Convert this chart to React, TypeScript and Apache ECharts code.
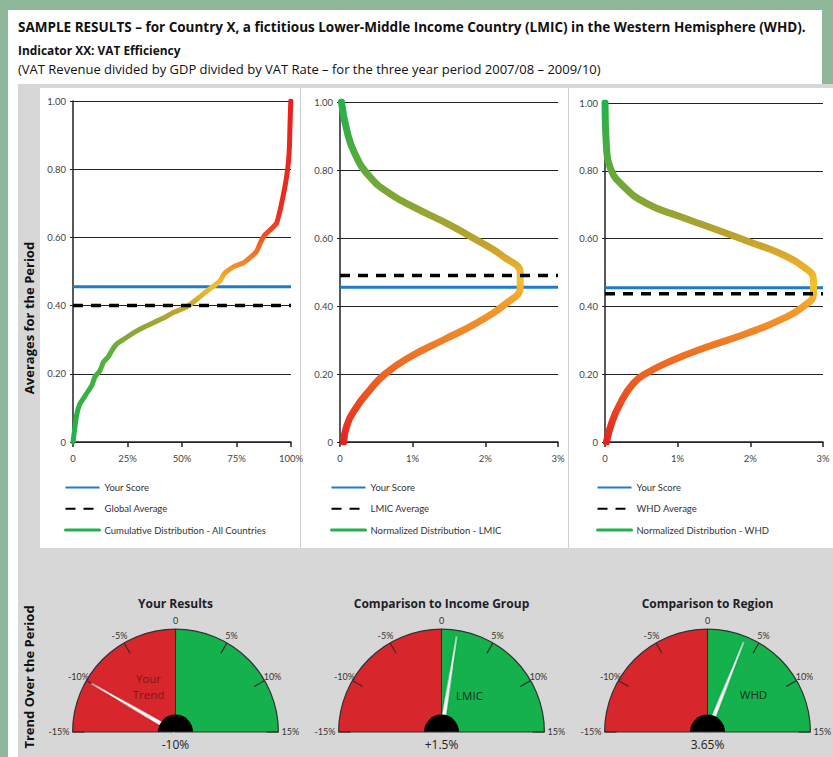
import React, { useEffect, useRef } from 'react';
import * as echarts from 'echarts';

// ---------- DATA ----------
// Chart 1: cumulative distribution, all countries (x = share of countries %, y = VAT efficiency)
const cdfShare = [0, 1.0, 1.7, 3, 4.5, 6, 8.6, 10, 12.4, 14, 16.2, 18, 20, 23, 27.7, 32, 36.8, 42, 46, 50, 53.7, 58, 61.3, 65, 67.4, 69, 70.5, 74, 78.1, 82, 84.3, 86, 88.1, 91, 93.4, 95, 96.5, 97.8, 98.8, 99.3, 99.5, 99.9];
const cdfValue = [0, 0.05, 0.08, 0.11, 0.125, 0.14, 0.165, 0.19, 0.21, 0.235, 0.25, 0.27, 0.287, 0.3, 0.32, 0.335, 0.35, 0.365, 0.38, 0.39, 0.403, 0.425, 0.442, 0.46, 0.472, 0.49, 0.5, 0.515, 0.525, 0.545, 0.56, 0.585, 0.608, 0.625, 0.642, 0.68, 0.725, 0.77, 0.82, 0.87, 0.92, 1.0];
// Chart 2: normalized distribution LMIC (x = density %, y = value)
const lmicDensity = [0.05, 0.09, 0.2, 0.41, 0.62, 0.96, 1.42, 1.88, 2.29, 2.48, 2.48, 2.25, 1.88, 1.47, 1.05, 0.69, 0.41, 0.2, 0.09, 0.02];
const lmicValue = [0, 0.045, 0.094, 0.153, 0.2, 0.25, 0.3, 0.35, 0.408, 0.457, 0.496, 0.545, 0.594, 0.643, 0.687, 0.73, 0.78, 0.85, 0.92, 1.0];
// Chart 3: normalized distribution WHD
const whdDensity = [0.02, 0.09, 0.21, 0.39, 0.57, 0.94, 1.4, 1.95, 2.41, 2.73, 2.87, 2.87, 2.73, 2.41, 1.99, 1.49, 1.03, 0.57, 0.25, 0.07, 0.02, 0.0];
const whdValue = [0, 0.055, 0.114, 0.173, 0.203, 0.242, 0.28, 0.32, 0.36, 0.4, 0.439, 0.478, 0.517, 0.556, 0.59, 0.63, 0.665, 0.704, 0.755, 0.81, 0.87, 1.0];

const yourScore = 0.455;
const averageValues = [0.4, 0.49, 0.437];
const averageNames = ['Global Average', 'LMIC Average', 'WHD Average'];
const curveNames = ['Cumulative Distribution - All Countries', 'Normalized Distribution - LMIC', 'Normalized Distribution - WHD'];
const xMaxes = [100, 3, 3];
const xIntervals = [25, 1, 1];

const gaugeTitles = ['Your Results', 'Comparison to Income Group', 'Comparison to Region'];
const gaugeValues = [-10, 1.5, 3.65];
const gaugeValueLabels = ['-10%', '+1.5%', '3.65%'];
const gaugeNames = ['Your\nTrend', 'LMIC', 'WHD'];
const gaugeTicks = [-15, -10, -5, 0, 5, 10, 15];

// ---------- STYLE / LAYOUT ----------
const NARROW = "Lato, 'Noto Sans', sans-serif";
const SANS = "'Open Sans', 'Noto Sans', sans-serif";
const grids = [
  { left: 73, top: 101, width: 218, height: 341 },
  { left: 340, top: 102, width: 218, height: 340 },
  { left: 605, top: 103, width: 218, height: 339 },
];
const legendLefts = [64, 330, 596];
const gaugeCX = [175.5, 441.5, 707.5];
const gaugeCY = 732;
const gaugeR = 103;
const gaugeNameOffsets = [[-27, -46], [28, -37], [46, -38]];
const gaugeNameColors = ['#7a1616', '#17301f', '#17301f'];

const gradients = [
  [[0, '#e8211f'], [0.33, '#ea2e20'], [0.4, '#ee5624'], [0.48, '#f18a2a'], [0.54, '#f4c02c'], [0.6, '#c9a62f'], [0.66, '#98a534'], [0.74, '#5faf3b'], [0.85, '#36b145'], [1, '#21b24b']],
  [[0, '#22b24b'], [0.15, '#4dac3e'], [0.3, '#88a633'], [0.42, '#c3a22d'], [0.49, '#ebb02c'], [0.52, '#f4c02c'], [0.6, '#f39a2a'], [0.72, '#f07a25'], [0.85, '#ed5522'], [1, '#e8211f']],
  [[0, '#22b24b'], [0.15, '#4dac3e'], [0.3, '#8aa533'], [0.4, '#c0a22e'], [0.47, '#e6ab2c'], [0.54, '#f4c22c'], [0.6, '#f3a02a'], [0.7, '#f07c25'], [0.85, '#ed5522'], [1, '#e8211f']],
];

function pairs(xs: number[], ys: number[]) {
  return xs.map((x, i) => [x, ys[i]]);
}

export default function App() {
  const ref = useRef<HTMLDivElement>(null);
  useEffect(() => {
    if (!ref.current) return;
    const chart = echarts.init(ref.current, undefined, { renderer: 'svg' });
    const curves = [pairs(cdfShare, cdfValue), pairs(lmicDensity, lmicValue), pairs(whdDensity, whdValue)];

    const xAxis: any[] = [];
    const yAxis: any[] = [];
    const series: any[] = [];
    const legend: any[] = [];

    for (let i = 0; i < 3; i++) {
      xAxis.push({
        gridIndex: i, type: 'value', min: 0, max: xMaxes[i], interval: xIntervals[i],
        axisLine: { show: true, onZero: false, lineStyle: { color: '#222', width: 1.5 } },
        axisTick: { show: true, length: 5, lineStyle: { color: '#222', width: 1.5 } },
        axisLabel: { color: '#444', fontSize: 9.5, fontFamily: NARROW, margin: 11, formatter: (v: number) => (v === 0 ? '0' : `${v}%`) },
        splitLine: { show: false },
      });
      yAxis.push({
        gridIndex: i, type: 'value', min: 0, max: 1, interval: 0.2,
        axisLine: { show: true, onZero: false, lineStyle: { color: '#222', width: 1.5 } },
        axisTick: { show: true, length: 3, lineStyle: { color: '#222' } },
        axisLabel: { color: '#444', fontSize: 9.5, fontFamily: NARROW, margin: 7, formatter: (v: number) => (v === 0 ? '0' : v.toFixed(2)) },
        splitLine: { show: true, lineStyle: { color: '#222', width: 1 } },
      });
      series.push({
        name: 'Your Score', type: 'line', xAxisIndex: i, yAxisIndex: i, symbol: 'none', silent: true,
        data: [[0, yourScore], [xMaxes[i], yourScore]],
        lineStyle: { color: '#1f7bcc', width: 3 }, itemStyle: { color: '#1f7bcc' }, z: 3,
      });
      series.push({
        name: curveNames[i], type: 'line', xAxisIndex: i, yAxisIndex: i, symbol: 'none', silent: true,
        smooth: i === 0 ? 0.15 : 0.5,
        data: curves[i],
        lineStyle: {
          width: i === 0 ? 5 : 7, cap: 'round', join: 'round',
          color: new echarts.graphic.LinearGradient(0, 0, 0, 1, gradients[i].map(([o, c]) => ({ offset: o as number, color: c as string }))),
        },
        itemStyle: { color: '#22b14c' }, z: 4,
      });
      series.push({
        name: averageNames[i], type: 'line', xAxisIndex: i, yAxisIndex: i, symbol: 'none', silent: true,
        data: [[0, averageValues[i]], [xMaxes[i], averageValues[i]]],
        lineStyle: { color: '#000', width: 3.5, type: [10, 8] }, itemStyle: { color: '#000' }, z: 5,
      });
      legend.push({
        orient: 'vertical', left: legendLefts[i], top: 482, itemWidth: 34, itemHeight: 14, itemGap: 10,
        selectedMode: false, padding: 0,
        itemStyle: { opacity: 0, borderWidth: 0 },
        textStyle: { fontSize: 9.5, color: '#333', fontFamily: NARROW },
        data: [
          { name: 'Your Score' },
          { name: averageNames[i] },
          { name: curveNames[i], lineStyle: { color: '#22b14c', width: 3 } },
        ],
      });
    }

    // gauges
    for (let g = 0; g < 3; g++) {
      const center = [gaugeCX[g], gaugeCY];
      series.push({
        type: 'gauge', center, radius: gaugeR, startAngle: 180, endAngle: 0, min: -15, max: 15, splitNumber: 6,
        axisLine: { lineStyle: { width: gaugeR, color: [[0.5, '#d7272c'], [1, '#14b14d']] } },
        axisTick: { show: false },
        splitLine: { show: true, length: 12, distance: -gaugeR, lineStyle: { color: '#3a2a2a', width: 1.2 } },
        axisLabel: { show: false },
        pointer: { show: true, icon: 'path://M1.6,0 L2.4,0 L4,100 L0,100 Z', length: 97, width: 4.5, offsetCenter: [0, 0], itemStyle: { color: '#ffffff', shadowColor: 'rgba(0,0,0,0.35)', shadowBlur: 2 } },
        anchor: { show: false },
        title: { show: true, offsetCenter: gaugeNameOffsets[g], color: gaugeNameColors[g], fontSize: 11.5, lineHeight: 16, fontFamily: SANS },
        detail: { show: true, offsetCenter: [0, 12], color: '#222', fontSize: 12, fontWeight: 'normal', fontFamily: SANS, formatter: () => gaugeValueLabels[g] },
        data: [{ value: gaugeValues[g], name: gaugeNames[g] }],
        z: 2,
      });
      series.push({
        type: 'gauge', center, radius: gaugeR + 0.5, startAngle: 180, endAngle: 0, min: -15, max: 15, silent: true,
        axisLine: { lineStyle: { width: 1.2, color: [[1, '#333']] } },
        axisTick: { show: false }, splitLine: { show: false }, axisLabel: { show: false },
        pointer: { show: false }, anchor: { show: false }, title: { show: false }, detail: { show: false },
        data: [{ value: 0 }], z: 3,
      });
      series.push({
        type: 'gauge', center, radius: 17.5, startAngle: 180, endAngle: 0, min: 0, max: 1, silent: true,
        axisLine: { lineStyle: { width: 17.5, color: [[1, '#000']] } },
        axisTick: { show: false }, splitLine: { show: false }, axisLabel: { show: false },
        pointer: { show: false }, anchor: { show: false }, title: { show: false }, detail: { show: false },
        data: [{ value: 0 }], z: 4,
      });
    }

    const graphic: any[] = [
      { type: 'rect', z: -10, silent: true, shape: { x: 0, y: 0, width: 833, height: 757 }, style: { fill: '#8fb89b' } },
      { type: 'rect', z: -9, silent: true, shape: { x: 8, y: 10, width: 814, height: 747 }, style: { fill: '#ffffff' } },
      { type: 'rect', z: -8, silent: true, shape: { x: 18, y: 84, width: 815, height: 673 }, style: { fill: '#d7d7d7' } },
      { type: 'rect', z: -7, silent: true, shape: { x: 40, y: 88, width: 793, height: 460 }, style: { fill: '#ffffff' } },
      { type: 'line', z: -6, silent: true, shape: { x1: 300.5, y1: 88, x2: 300.5, y2: 548 }, style: { stroke: '#d0d0d0', lineWidth: 1 } },
      { type: 'line', z: -6, silent: true, shape: { x1: 568.5, y1: 88, x2: 568.5, y2: 548 }, style: { stroke: '#d0d0d0', lineWidth: 1 } },
      { type: 'text', z: 100, x: 18, y: 27, style: { text: 'SAMPLE RESULTS \u2013 for Country X, a fictitious Lower-Middle Income Country (LMIC) in the Western Hemisphere (WHD).', fill: '#111', fontSize: 13.5, fontWeight: 'bold', fontFamily: SANS, verticalAlign: 'middle' } },
      { type: 'text', z: 100, x: 18, y: 50, style: { text: 'Indicator XX: VAT Efficiency', fill: '#111', fontSize: 11.9, fontWeight: 'bold', fontFamily: SANS, verticalAlign: 'middle' } },
      { type: 'text', z: 100, x: 18, y: 69, style: { text: '(VAT Revenue divided by GDP divided by VAT Rate \u2013 for the three year period 2007/08 \u2013 2009/10)', fill: '#111', fontSize: 13, fontFamily: SANS, verticalAlign: 'middle' } },
      { type: 'text', z: 100, x: 29, y: 318, rotation: Math.PI / 2, style: { text: 'Averages for the Period', fill: '#111', fontSize: 13, fontWeight: 'bold', fontFamily: SANS, align: 'center', verticalAlign: 'middle' } },
      { type: 'text', z: 100, x: 29, y: 677, rotation: Math.PI / 2, style: { text: 'Trend Over the Period', fill: '#111', fontSize: 13, fontWeight: 'bold', fontFamily: SANS, align: 'center', verticalAlign: 'middle' } },
    ];

    for (let g = 0; g < 3; g++) {
      const cx = gaugeCX[g];
      graphic.push({ type: 'text', z: 100, x: cx, y: 603, style: { text: gaugeTitles[g], fill: '#1e1e2a', fontSize: 12, fontWeight: 'bold', fontFamily: SANS, align: 'center', verticalAlign: 'middle' } });
      graphic.push({ type: 'line', z: 10, silent: true, shape: { x1: cx - gaugeR, y1: gaugeCY, x2: cx + gaugeR, y2: gaugeCY }, style: { stroke: '#333', lineWidth: 1.2 } });
      graphic.push({ type: 'line', z: 10, silent: true, shape: { x1: cx, y1: gaugeCY - 17, x2: cx, y2: gaugeCY - gaugeR }, style: { stroke: '#4a2020', lineWidth: 1 } });
      gaugeTicks.forEach((v) => {
        const a = Math.PI * (1 - (v + 15) / 30);
        const edge = Math.abs(v) === 15;
        const r = edge ? 106 : 112;
        graphic.push({
          type: 'text', z: 100,
          x: cx + r * Math.cos(a), y: gaugeCY - r * Math.sin(a) - (edge ? 1 : 0),
          style: {
            text: v === 0 ? '0' : `${v}%`, fill: '#333', fontSize: 9, fontFamily: NARROW,
            align: edge ? (v < 0 ? 'right' : 'left') : 'center', verticalAlign: 'middle',
          },
        });
      });
    }

    chart.setOption({
      animation: false,
      grid: grids,
      xAxis, yAxis, series, legend, graphic,
    });
    return () => chart.dispose();
  }, []);

  return <div ref={ref} style={{ position: 'absolute', left: 0, top: 0, width: 833, height: 757 }} />;
}
